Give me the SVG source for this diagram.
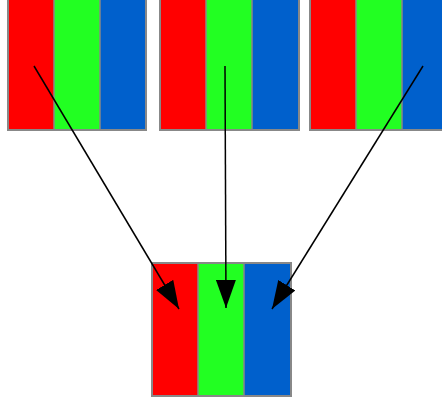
<svg xmlns="http://www.w3.org/2000/svg" width="442" height="402" viewBox="0 0 442 402">
<style>
.r{fill:#ff0000}.g{fill:#22ff22}.b{fill:#0060cc}
.frame{fill:none;stroke:#888;stroke-width:2}
.div{stroke:#888;stroke-width:1.5}
.conn{stroke:#000;stroke-width:1.5;fill:none}
</style>
<defs>
<marker id="ah" viewBox="0 0 28 20" refX="28" refY="10" markerWidth="28" markerHeight="20" markerUnits="userSpaceOnUse" orient="auto">
<path d="M0,0 L28,10 L0,20 Z" fill="#000"/>
</marker>
</defs>
<rect width="442" height="402" fill="#fff"/>
<g id="src1">
<rect class="r" x="8" y="-2" width="46" height="132"/>
<rect class="g" x="54" y="-2" width="46" height="132"/>
<rect class="b" x="100" y="-2" width="46" height="132"/>
<line class="div" x1="54" y1="-2" x2="54" y2="130"/>
<line class="div" x1="100" y1="-2" x2="100" y2="130"/>
<rect class="frame" x="8" y="-2" width="138" height="132"/>
</g>
<g id="src2">
<rect class="r" x="160" y="-2" width="46" height="132"/>
<rect class="g" x="206" y="-2" width="46" height="132"/>
<rect class="b" x="252" y="-2" width="47" height="132"/>
<line class="div" x1="206" y1="-2" x2="206" y2="130"/>
<line class="div" x1="252" y1="-2" x2="252" y2="130"/>
<rect class="frame" x="160" y="-2" width="139" height="132"/>
</g>
<g id="src3">
<rect class="r" x="310" y="-2" width="46" height="132"/>
<rect class="g" x="356" y="-2" width="46" height="132"/>
<rect class="b" x="402" y="-2" width="46" height="132"/>
<line class="div" x1="356" y1="-2" x2="356" y2="130"/>
<line class="div" x1="402" y1="-2" x2="402" y2="130"/>
<rect class="frame" x="310" y="-2" width="138" height="132"/>
</g>
<g id="dest">
<rect class="r" x="152" y="263" width="46" height="133"/>
<rect class="g" x="198" y="263" width="46" height="133"/>
<rect class="b" x="244" y="263" width="47" height="133"/>
<line class="div" x1="198" y1="263" x2="198" y2="396"/>
<line class="div" x1="244" y1="263" x2="244" y2="396"/>
<rect class="frame" x="152" y="263" width="139" height="133"/>
</g>
<g id="connectors">
<line class="conn" x1="34" y1="66" x2="179" y2="309" marker-end="url(#ah)"/>
<line class="conn" x1="225" y1="66" x2="226" y2="308" marker-end="url(#ah)"/>
<line class="conn" x1="423" y1="66" x2="272" y2="309" marker-end="url(#ah)"/>
</g>
</svg>
